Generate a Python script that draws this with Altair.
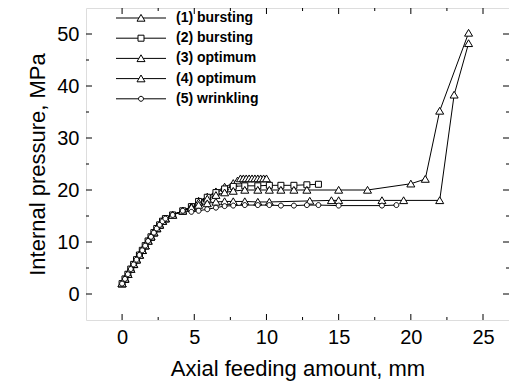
import altair as alt
import pandas as pd

names = ["(1) bursting", "(2) bursting", "(3) optimum", "(4) optimum", "(5) wrinkling"]

rise_x = [0.0, 0.2, 0.4, 0.6, 0.8, 1.0, 1.2, 1.4, 1.6, 1.8, 2.0, 2.2, 2.4, 2.6, 2.8, 3.0, 3.5, 4.2]
rise_y = [2.0, 2.9, 3.8, 4.8, 5.7, 6.6, 7.5, 8.4, 9.3, 10.2, 11.0, 11.8, 12.6, 13.3, 14.0, 14.5, 15.2, 16.0]

tail1_x = [4.8, 5.3, 5.9, 6.5, 7.1, 7.7, 8.0, 8.2, 8.4, 8.6, 8.8, 9.0, 9.2, 9.4, 9.6, 9.8, 10.0]
tail1_y = [16.8, 17.9, 18.7, 19.7, 20.6, 21.3, 21.8, 22.2, 22.2, 22.2, 22.2, 22.2, 22.2, 22.2, 22.2, 22.2, 22.2]

tail2_x = [4.8, 5.3, 5.9, 6.5, 7.1, 7.7, 8.5, 9.4, 10.2, 11.0, 11.9, 12.8, 13.6]
tail2_y = [16.8, 17.8, 18.6, 19.5, 20.2, 20.7, 20.8, 20.8, 20.9, 20.9, 20.9, 21.0, 21.1]

tail3_x = [4.8, 5.3, 5.9, 6.5, 7.1, 7.7, 8.5, 9.4, 10.2, 11.0, 11.9, 12.8, 15.0, 17.0, 20.0, 21.0, 22.0, 24.0]
tail3_y = [16.8, 17.6, 18.3, 19.0, 19.5, 19.8, 20.0, 20.0, 20.0, 20.0, 20.0, 20.0, 20.0, 20.0, 21.2, 22.1, 35.2, 50.2]

tail4_x = [4.8, 5.3, 5.9, 6.5, 7.1, 7.7, 8.5, 9.4, 10.2, 13.0, 14.5, 15.0, 18.0, 19.5, 22.0, 23.0, 24.0]
tail4_y = [16.6, 17.1, 17.4, 17.7, 17.8, 17.8, 17.8, 17.7, 17.7, 17.9, 18.0, 18.0, 18.0, 18.0, 18.0, 38.3, 48.2]

tail5_x = [4.8, 5.3, 5.9, 6.5, 7.1, 7.7, 8.5, 9.4, 10.2, 11.0, 11.9, 12.8, 13.6, 15.0, 18.0, 19.0]
tail5_y = [15.8, 16.0, 16.3, 16.6, 16.9, 17.0, 17.1, 17.1, 17.1, 17.0, 17.0, 17.1, 17.1, 17.0, 17.0, 17.1]

x_major = [0, 5, 10, 15, 20, 25]
x_minor = [2.5, 7.5, 12.5, 17.5, 22.5]
y_major = [0, 10, 20, 30, 40, 50]
y_minor = [5, 15, 25, 35, 45]

tails = [(tail1_x, tail1_y), (tail2_x, tail2_y), (tail3_x, tail3_y), (tail4_x, tail4_y), (tail5_x, tail5_y)]
rows = []
for name, (tx, ty) in zip(names, tails):
    xs = rise_x + tx
    ys = rise_y + ty
    for j, (a, b) in enumerate(zip(xs, ys)):
        rows.append({"series": name, "x": a, "y": b, "order": j})
df = pd.DataFrame(rows)

W, H = 423, 312
FONT = "Liberation Sans"
xscale = alt.Scale(domain=[-2.5, 26.8], nice=False, zero=False)
yscale = alt.Scale(domain=[-5, 55], nice=False, zero=False)

tri = "M0,-0.9L1,0.8L-1,0.8Z"
sq = "M-0.75,-0.75H0.75V0.75H-0.75Z"
cir = "M0.62,0A0.62,0.62,0,1,1,-0.62,0A0.62,0.62,0,1,1,0.62,0Z"
shapes = [tri, sq, tri, tri, cir]

xaxis = alt.Axis(values=x_major, domain=False, ticks=False, grid=False, labelFontSize=20,
                 labelPadding=7, title="Axial feeding amount, mm", titleFontSize=22,
                 titleFontWeight="normal", titlePadding=11, labelFont=FONT, titleFont=FONT,
                 labelColor="black", titleColor="black")
yaxis = alt.Axis(values=y_major, domain=False, ticks=False, grid=False, labelFontSize=20,
                 labelPadding=7, title="Internal pressure, MPa", titleFontSize=22,
                 titleFontWeight="normal", titlePadding=7, labelFont=FONT, titleFont=FONT,
                 labelColor="black", titleColor="black")

lines = alt.Chart(df).mark_line(color="black", strokeWidth=1).encode(
    x=alt.X("x:Q", scale=xscale, axis=xaxis),
    y=alt.Y("y:Q", scale=yscale, axis=yaxis),
    detail="series:N",
    order="order:Q",
)

points = alt.Chart(df).mark_point(filled=False, fill="white", fillOpacity=1, stroke="black",
                                  strokeWidth=1, size=64, opacity=1).encode(
    x="x:Q", y="y:Q",
    shape=alt.Shape("series:N", scale=alt.Scale(domain=names, range=shapes), legend=None),
)


def xticks(vals, length, top):
    d = pd.DataFrame({"v": vals})
    y0 = 0 if top else H
    y1 = length if top else H - length
    return alt.Chart(d).mark_rule(color="black", strokeWidth=1).encode(
        x=alt.X("v:Q", scale=xscale), y=alt.value(y0), y2=alt.value(y1))


def yticks(vals, length, right):
    d = pd.DataFrame({"v": vals})
    x0 = W if right else 0
    x1 = W - length if right else length
    return alt.Chart(d).mark_rule(color="black", strokeWidth=1).encode(
        y=alt.Y("v:Q", scale=yscale), x=alt.value(x0), x2=alt.value(x1))


ticks = [xticks(x_major, 6, False), xticks(x_minor, 3, False), xticks(x_major, 6, True), xticks(x_minor, 3, True),
         yticks(y_major, 6, False), yticks(y_minor, 3, False), yticks(y_major, 6, True), yticks(y_minor, 3, True)]

# legend (decoration, drawn inside the plot frame, top-left)
LEG_TOP, LEG_STEP = 10, 20.2
LINE_X0, LINE_X1, MARK_X, TEXT_X = 30, 80, 55, 90
legend_layers = []
for i, (name, shp) in enumerate(zip(names, shapes)):
    yy = LEG_TOP + i * LEG_STEP
    one = pd.DataFrame({"label": [name]})
    legend_layers.append(alt.Chart(one).mark_rule(color="black", strokeWidth=1).encode(
        x=alt.value(LINE_X0), x2=alt.value(LINE_X1), y=alt.value(yy)))
    legend_layers.append(alt.Chart(one).mark_point(shape=shp, size=64, filled=False, fill="white",
                                                   fillOpacity=1, stroke="black", strokeWidth=1,
                                                   opacity=1).encode(
        x=alt.value(MARK_X), y=alt.value(yy)))
    legend_layers.append(alt.Chart(one).mark_text(align="left", baseline="middle", font=FONT,
                                                  fontSize=14, fontWeight="bold", color="black").encode(
        text="label:N", x=alt.value(TEXT_X), y=alt.value(yy)))

chart = alt.layer(lines, *ticks, points, *legend_layers).properties(
    width=W, height=H,
    autosize=alt.AutoSizeParams(type="none"),
    padding={"left": 78, "top": 0, "right": 0, "bottom": 65},
).configure_view(stroke="black", strokeWidth=1.2).configure(background="white")

chart.save("out.html", embed_options={"renderer": "svg", "actions": False})
